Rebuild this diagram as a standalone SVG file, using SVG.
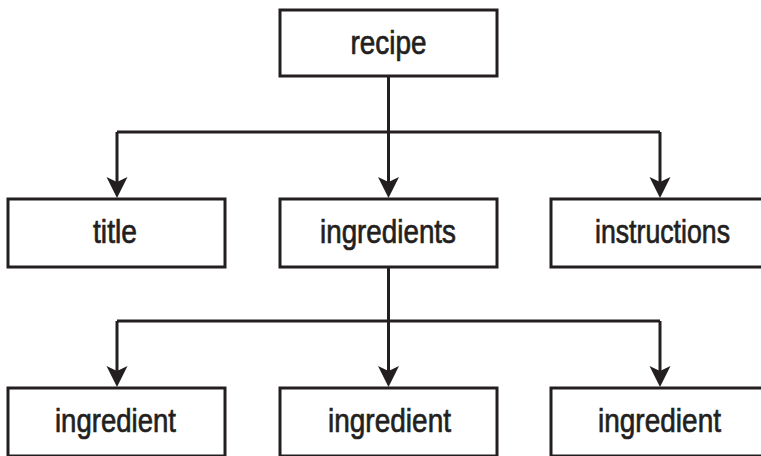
<svg xmlns="http://www.w3.org/2000/svg" width="761" height="456" viewBox="0 0 761 456">
<style>
.box{fill:#fff;stroke:#231f20;stroke-width:3}
.lbl{font-family:"Liberation Sans","Arial",sans-serif;font-size:33px;fill:#231f20;stroke:#231f20;stroke-width:0.7;text-anchor:middle}
.edge{fill:none;stroke:#231f20;stroke-width:3;stroke-linejoin:miter}
.head{fill:#231f20;stroke:none}
</style>
<defs>
<path id="ah" class="head" d="M0,0 L-10.5,-21 L0,-16 L10.5,-21 Z"/>
</defs>
<rect width="761" height="456" fill="#fff"/>
<g id="connectors">
<path class="edge" d="M388.5,76 V132 M117,132 H660"/>
<path class="edge" d="M117,132 V186"/>
<path class="edge" d="M388.5,132 V186"/>
<path class="edge" d="M660,132 V186"/>
<path class="edge" d="M388.5,267 V321 M117,321 H660"/>
<path class="edge" d="M117,321 V375"/>
<path class="edge" d="M388.5,321 V375"/>
<path class="edge" d="M660,321 V375"/>
<use href="#ah" x="117" y="198"/>
<use href="#ah" x="388.5" y="198"/>
<use href="#ah" x="660" y="198"/>
<use href="#ah" x="117" y="387"/>
<use href="#ah" x="388.5" y="387"/>
<use href="#ah" x="660" y="387"/>
</g>
<g id="recipe">
<rect class="box" x="280" y="10" width="217" height="66"/>
<text class="lbl" x="388.5" y="54" textLength="76" lengthAdjust="spacingAndGlyphs">recipe</text>
</g>
<g id="title">
<rect class="box" x="8" y="199" width="217" height="68"/>
<text class="lbl" x="115" y="243" textLength="44" lengthAdjust="spacingAndGlyphs">title</text>
</g>
<g id="ingredients">
<rect class="box" x="280" y="199" width="217" height="68"/>
<text class="lbl" x="388" y="243" textLength="136" lengthAdjust="spacingAndGlyphs">ingredients</text>
</g>
<g id="instructions">
<rect class="box" x="551" y="199" width="230" height="68"/>
<text class="lbl" x="662.5" y="243" textLength="135" lengthAdjust="spacingAndGlyphs">instructions</text>
</g>
<g id="ingredient1">
<rect class="box" x="8" y="388" width="217" height="68"/>
<text class="lbl" x="115.5" y="432" textLength="121" lengthAdjust="spacingAndGlyphs">ingredient</text>
</g>
<g id="ingredient2">
<rect class="box" x="280" y="388" width="217" height="68"/>
<text class="lbl" x="389.5" y="432" textLength="123" lengthAdjust="spacingAndGlyphs">ingredient</text>
</g>
<g id="ingredient3">
<rect class="box" x="551" y="388" width="230" height="68"/>
<text class="lbl" x="659.5" y="432" textLength="123" lengthAdjust="spacingAndGlyphs">ingredient</text>
</g>
</svg>
